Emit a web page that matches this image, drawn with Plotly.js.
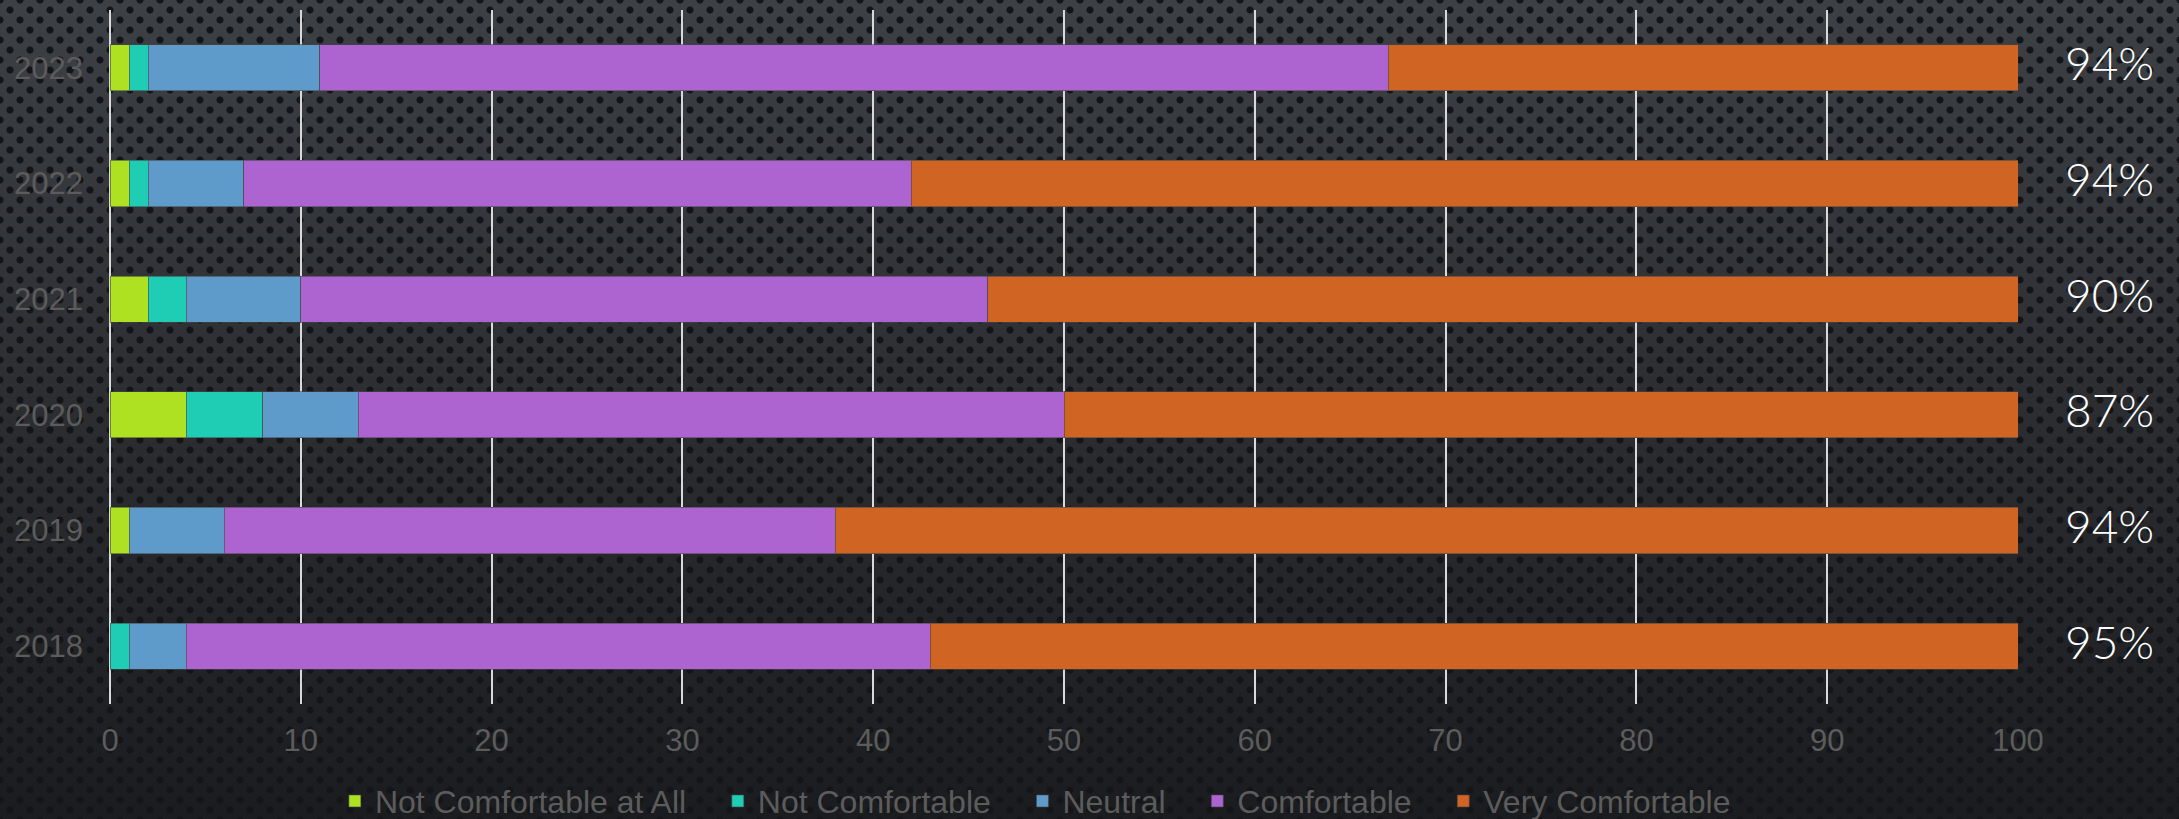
<!DOCTYPE html>
<html>
<head>
<meta charset="utf-8">
<script src="https://cdn.plot.ly/plotly-3.0.1.min.js"></script>
<style>
  html, body {
    margin: 0;
    padding: 0;
    width: 2179px;
    height: 819px;
    overflow: hidden;
  }
  body {
    /* perforated dark metal look */
    background:
      radial-gradient(circle, #141518 3.2px, rgba(20,21,24,0) 3.9px) 0 0 / 20px 20px,
      radial-gradient(circle, #141518 3.2px, rgba(20,21,24,0) 3.9px) 10px 10px / 20px 20px,
      linear-gradient(180deg, #3d4045 0%, #2d2f33 45%, #1b1c1f 100%);
  }
  #chart { width: 2179px; height: 819px; }
</style>
</head>
<body>
<div id="chart"></div>
<script>
// years, bottom to top
const years = ['2018', '2019', '2020', '2021', '2022', '2023'];

// share of respondents per answer (%)
const notComfortableAtAll = [0, 1, 4, 2, 1, 1];
const notComfortable      = [1, 0, 4, 2, 1, 1];
const neutral             = [3, 5, 5, 6, 5, 9];
const comfortable         = [39, 32, 37, 36, 35, 56];
const veryComfortable     = [57, 62, 50, 54, 58, 33];

// labels shown on the right of each bar
const sideLabels = ['95%', '94%', '87%', '90%', '94%', '94%'];

const seriesNames = ['Not Comfortable at All', 'Not Comfortable', 'Neutral', 'Comfortable', 'Very Comfortable'];
const seriesValues = [notComfortableAtAll, notComfortable, neutral, comfortable, veryComfortable];
const seriesColors = ['#ade122', '#1fcdb5', '#5f9bca', '#ad64d1', '#d06422'];

// a few non-breaking spaces widen the gap between legend entries
const legendPad = '\u00a0\u00a0\u00a0';

const traces = seriesNames.map((name, i) => ({
    type: 'bar',
    orientation: 'h',
    name: i < seriesNames.length - 1 ? name + legendPad : name,
    y: years,
    x: seriesValues[i],
    marker: {
        color: seriesColors[i],
        line: { color: 'rgba(70,70,70,0.6)', width: 1 }
    },
    hovertemplate: name + ': %{x}%<extra></extra>'
}));

// category axis: annotations are placed by category index
const annotations = years.map((yr, i) => ({
    xref: 'paper',
    yref: 'y',
    x: 1.048,
    y: i,
    yshift: 5,
    xanchor: 'center',
    yanchor: 'middle',
    text: sideLabels[i],
    showarrow: false,
    font: { family: 'Lato, "Open Sans", sans-serif', size: 46, weight: 300, color: '#ffffff' }
}));

const tickFont = { family: '"Liberation Sans", Arial, sans-serif', size: 31, color: '#5c5c5c' };

const layout = {
    width: 2179,
    height: 819,
    margin: { l: 110, r: 161, t: 10, b: 115, autoexpand: false },
    paper_bgcolor: 'rgba(0,0,0,0)',
    plot_bgcolor: 'rgba(0,0,0,0)',
    barmode: 'stack',
    bargap: 0.6,
    showlegend: true,
    legend: {
        orientation: 'h',
        x: 0.485,
        xanchor: 'center',
        y: -0.14,
        yanchor: 'middle',
        font: { family: '"Liberation Sans", Arial, sans-serif', size: 32, color: '#5c5c5c' },
        traceorder: 'normal',
        itemclick: false
    },
    xaxis: {
        range: [0, 100],
        dtick: 10,
        showgrid: true,
        gridcolor: '#d9d9d9',
        gridwidth: 2,
        zeroline: true,
        zerolinecolor: '#d9d9d9',
        zerolinewidth: 2,
        showline: false,
        ticks: '',
        tickfont: tickFont,
        ticklabelstandoff: 15,
        fixedrange: true
    },
    yaxis: {
        type: 'category',
        range: [-0.5, 5.5],
        showgrid: false,
        zeroline: false,
        showline: false,
        ticks: '',
        tickfont: tickFont,
        ticklabelstandoff: 26,
        fixedrange: true
    },
    annotations: annotations
};

Plotly.newPlot('chart', traces, layout, { displayModeBar: false });
</script>
</body>
</html>
